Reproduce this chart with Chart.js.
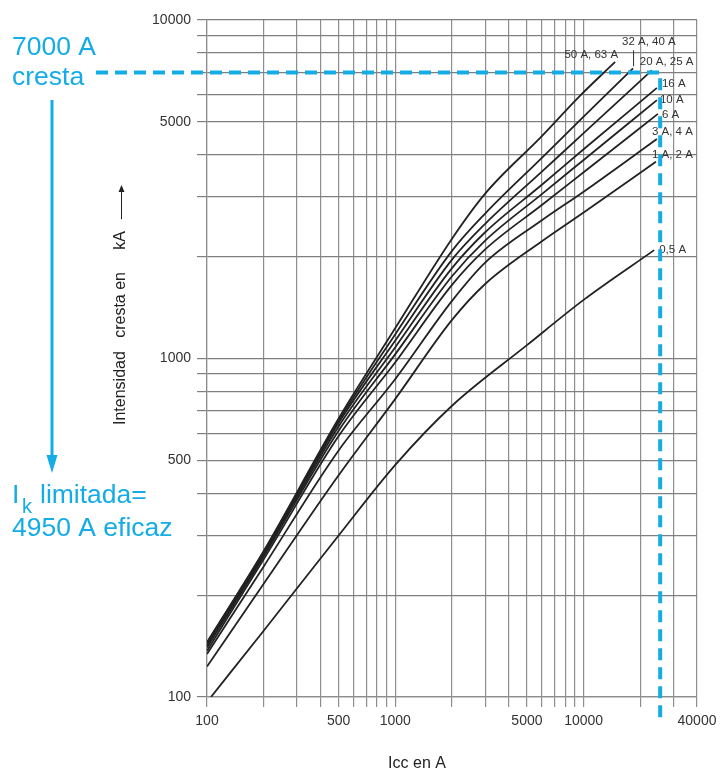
<!DOCTYPE html>
<html lang="es">
<head>
<meta charset="UTF-8">
<title>Limitación de la corriente de cresta</title>
<script src="https://cdn.jsdelivr.net/npm/chart.js@4.4.0/dist/chart.umd.min.js"></script>
<style>
  html, body { margin: 0; padding: 0; background: #fff; }
  #wrap { width: 724px; height: 774px; }
</style>
</head>
<body>
<div id="wrap"><canvas id="chart" width="724" height="774"></canvas></div>
<script>
// ratings of each curve, top to bottom
const ratings = ['50 A, 63 A', '32 A, 40 A', '20 A, 25 A', '16 A', '10 A', '6 A', '3 A, 4 A', '1 A, 2 A', '0,5 A'];

// prospective current Icc (A) and limited peak current
const iccA   = [100, 200, 500, 1000, 2000, 3000, 6000, 10000];
const pk50   = [145, 270, 665, 1230, 2260, 3070, 4540, 5950, 7520];
const icc50  = [100, 200, 500, 1000, 2000, 3000, 6000, 9500, 14700];
const pk32   = [145, 268, 655, 1180, 2080, 2680, 3915, 5180, 7200];
const icc32  = [...iccA, 18300];
const pk20   = [144, 266, 645, 1130, 1960, 2500, 3565, 4630, 7100];
const icc20  = [...iccA, 23000];
const pk16   = [142, 263, 630, 1080, 1850, 2360, 3260, 4150, 6300];
const icc16  = [...iccA, 24500];
const pk10   = [140, 260, 612, 1030, 1750, 2230, 3060, 3860, 5800];
const icc10  = [...iccA, 24500];
const pk6    = [137, 255, 590, 975, 1650, 2100, 2840, 3550, 5280];
const icc6   = [...iccA, 24800];
const pk3    = [134, 243, 535, 870, 1480, 1920, 2560, 3110, 4450];
const icc3   = [...iccA, 24500];
const pk1    = [123, 216, 452, 760, 1300, 1660, 2220, 2700, 3810];
const icc1   = [...iccA, 24200];
const pk05   = [100, 157, 300, 485, 725, 1095, 1490, 2090];
const icc05  = [105, 200, 500, 1000, 2000, 5000, 10000, 23700];

const curveX = [icc50, icc32, icc20, icc16, icc10, icc6, icc3, icc1, icc05];
const curveY = [pk50, pk32, pk20, pk16, pk10, pk6, pk3, pk1, pk05];

// grid lines and labelled ticks
const xGrid = [100, 200, 300, 400, 500, 600, 700, 800, 900, 1000, 2000, 3000, 4000, 5000, 6000, 7000, 8000, 9000, 10000, 20000, 30000, 40000];
const xLabels = [100, 500, 1000, 5000, 10000, 40000];
const yGrid = [100, 200, 300, 400, 500, 600, 700, 800, 900, 1000, 2000, 3000, 4000, 5000, 6000, 7000, 8000, 9000, 10000];
const yLabels = [100, 500, 1000, 5000, 10000];

// worked example
const peakLimited = 7000;
const iccProspective = 25500;

const ink = '#222';
const blue = '#14ace6';
const fontFam = '"Liberation Sans", Arial, Helvetica, sans-serif';

// label placement relative to the end of each curve: dx, dy, align
const labelOffsets = [
  [3, -3.5, 'right'], [-11, -23, 'left'], [-12, -5, 'left'], [5, -1, 'left'], [3, 3, 'left'],
  [4, 4, 'left'], [-5, -4, 'left'], [-4, -4, 'left'], [5, 3, 'left']
];

const annotate = {
  id: 'annotate',
  afterDraw(chart) {
    const { ctx, chartArea } = chart;
    const x = chart.scales.x, y = chart.scales.y;
    ctx.save();

    // curve labels
    ctx.font = '11.5px ' + fontFam;
    ctx.fillStyle = '#333';
    ctx.textBaseline = 'alphabetic';
    curveX.forEach((xs, i) => {
      const n = xs.length - 1;
      const px = x.getPixelForValue(xs[n]);
      const py = y.getPixelForValue(curveY[i][n]);
      const [dx, dy, align] = labelOffsets[i];
      ctx.textAlign = align;
      ctx.fillText(ratings[i], px + dx, py + dy);
      if (i === 1) {
        ctx.strokeStyle = '#333';
        ctx.lineWidth = 1;
        ctx.beginPath();
        ctx.moveTo(px + 0.5, py - 2);
        ctx.lineTo(px + 0.5, py - 18);
        ctx.stroke();
      }
    });

    // axis titles
    ctx.fillStyle = '#222';
    ctx.font = '16px ' + fontFam;
    ctx.textAlign = 'center';
    ctx.textBaseline = 'middle';
    ctx.fillText('Icc en A', 417, 764);
    ctx.save();
    ctx.translate(121, 425);
    ctx.rotate(-Math.PI / 2);
    ctx.textAlign = 'left';
    const yTitle = 'Intensidad   cresta en     kA';
    ctx.fillText(yTitle, 0, 0);
    // long thin arrow after the unit
    const ax = ctx.measureText(yTitle).width + 12;
    ctx.strokeStyle = '#222';
    ctx.lineWidth = 1;
    ctx.beginPath();
    ctx.moveTo(ax, 0.5);
    ctx.lineTo(ax + 30, 0.5);
    ctx.stroke();
    ctx.beginPath();
    ctx.moveTo(ax + 34, 0.5);
    ctx.lineTo(ax + 27, -2.5);
    ctx.lineTo(ax + 27, 3.5);
    ctx.closePath();
    ctx.fill();
    ctx.restore();

    // dashed reading lines
    const yPk = y.getPixelForValue(peakLimited);
    const xPr = x.getPixelForValue(iccProspective);
    ctx.strokeStyle = blue;
    ctx.lineWidth = 4;
    ctx.setLineDash([12, 7]);
    ctx.lineJoin = 'miter';
    ctx.beginPath();
    ctx.moveTo(96, yPk);
    ctx.lineTo(xPr, yPk);
    ctx.lineTo(xPr, chartArea.bottom + 25);
    ctx.stroke();
    ctx.setLineDash([]);

    // blue notes
    ctx.fillStyle = blue;
    ctx.textAlign = 'left';
    ctx.textBaseline = 'alphabetic';
    ctx.font = '26.5px ' + fontFam;
    ctx.fillText('7000 A', 12, 55);
    ctx.fillText('cresta', 12, 85);
    ctx.fillText('I', 12, 503);
    ctx.fillText('limitada=', 40, 503);
    ctx.fillText('4950 A eficaz', 12, 536);
    ctx.font = '20px ' + fontFam;
    ctx.fillText('k', 22, 513);

    // arrow
    ctx.strokeStyle = blue;
    ctx.lineWidth = 3;
    ctx.beginPath();
    ctx.moveTo(52, 100);
    ctx.lineTo(52, 458);
    ctx.stroke();
    ctx.beginPath();
    ctx.moveTo(46.5, 455);
    ctx.lineTo(57.5, 455);
    ctx.lineTo(52, 473);
    ctx.closePath();
    ctx.fill();

    ctx.restore();
  }
};

const datasets = curveX.map((xs, i) => ({
  label: ratings[i],
  data: xs.map((v, j) => ({ x: v, y: curveY[i][j] })),
  showLine: true,
  borderColor: ink,
  borderWidth: 1.8,
  pointRadius: 0,
  cubicInterpolationMode: 'monotone',
  fill: false
}));

const tickFont = { family: fontFam, size: 14 };

new Chart(document.getElementById('chart').getContext('2d'), {
  type: 'scatter',
  data: { datasets },
  options: {
    responsive: false,
    animation: false,
    layout: { padding: { top: 20, right: 27, left: 0, bottom: 0 } },
    plugins: { legend: { display: false }, tooltip: { enabled: false } },
    scales: {
      x: {
        type: 'logarithmic',
        min: 100,
        max: 40000,
        afterBuildTicks: s => { s.ticks = xGrid.map(v => ({ value: v })); },
        afterFit: s => { s.height = 77; },
        ticks: {
          autoSkip: false,
          maxRotation: 0,
          padding: 6,
          color: '#333',
          font: tickFont,
          callback: v => xLabels.includes(v) ? String(v) : ''
        },
        grid: { color: '#8d8d8d', lineWidth: 1.2, tickLength: 10 },
        border: { color: '#8d8d8d', width: 1.2 }
      },
      y: {
        type: 'logarithmic',
        min: 100,
        max: 10000,
        afterBuildTicks: s => { s.ticks = yGrid.map(v => ({ value: v })); },
        afterFit: s => { s.width = 207; },
        ticks: {
          autoSkip: false,
          padding: 6,
          color: '#333',
          font: tickFont,
          callback: v => yLabels.includes(v) ? String(v) : ''
        },
        grid: { color: '#7f7f7f', lineWidth: 1.2, tickLength: 10 },
        border: { color: '#8d8d8d', width: 1.2 }
      }
    }
  },
  plugins: [annotate]
});
</script>
</body>
</html>
